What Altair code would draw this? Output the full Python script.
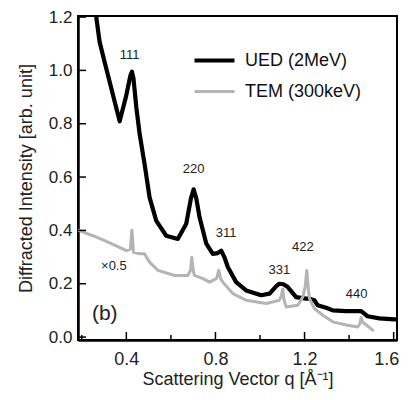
import altair as alt
import pandas as pd

# UED (2MeV) curve
ued_q = [0.255, 0.265, 0.28, 0.303, 0.3475, 0.37, 0.398, 0.418, 0.425, 0.432, 0.445, 0.46, 0.482,
         0.5045, 0.5345, 0.579, 0.631, 0.669, 0.69, 0.702, 0.714, 0.729, 0.759, 0.788, 0.81, 0.826,
         0.84, 0.856, 0.893, 0.938, 1.005, 1.043, 1.072, 1.087, 1.105, 1.125, 1.162, 1.207, 1.222,
         1.244, 1.259, 1.297, 1.327, 1.387, 1.454, 1.483, 1.536, 1.603, 1.615]
ued_y = [1.25, 1.2, 1.107, 1.03, 0.883, 0.809, 0.90, 0.98, 0.995, 0.97, 0.86, 0.76, 0.648,
         0.523, 0.436, 0.38, 0.368, 0.425, 0.52, 0.554, 0.52, 0.448, 0.35, 0.312, 0.315, 0.324,
         0.30, 0.262, 0.206, 0.175, 0.157, 0.163, 0.19, 0.2, 0.198, 0.1875, 0.15, 0.144, 0.144,
         0.138, 0.119, 0.11, 0.10, 0.097, 0.097, 0.078, 0.07, 0.066, 0.066]

# TEM (300keV) curve (x0.5)
tem_q = [0.185, 0.25, 0.303, 0.36, 0.40, 0.418, 0.425, 0.432, 0.46, 0.482, 0.49, 0.505, 0.542,
         0.617, 0.676, 0.688, 0.694, 0.70, 0.706, 0.744, 0.774, 0.805, 0.815, 0.823, 0.833, 0.878,
         0.938, 1.028, 1.087, 1.096, 1.102, 1.108, 1.117, 1.17, 1.192, 1.203, 1.21, 1.217, 1.222,
         1.244, 1.282, 1.327, 1.387, 1.439, 1.448, 1.454, 1.462, 1.469, 1.506]
tem_y = [0.40, 0.38, 0.362, 0.34, 0.324, 0.33, 0.401, 0.318, 0.312, 0.312, 0.30, 0.28, 0.25,
         0.231, 0.231, 0.25, 0.299, 0.25, 0.231, 0.219, 0.206, 0.22, 0.25, 0.22, 0.206, 0.163,
         0.138, 0.126, 0.138, 0.155, 0.18, 0.14, 0.113, 0.119, 0.15, 0.19, 0.25, 0.18, 0.145,
         0.107, 0.082, 0.057, 0.045, 0.038, 0.05, 0.073, 0.055, 0.051, 0.026]

series_names = ["UED (2MeV)", "TEM (300keV)"]

peak_labels = ["111", "220", "311", "331", "422", "440", "\u00d70.5"]
peak_q = [0.415, 0.702, 0.848, 1.087, 1.192, 1.434, 0.344]
peak_y = [1.058, 0.63, 0.392, 0.25, 0.337, 0.163, 0.268]

panel_label = ["(b)"]
panel_q = [0.303]
panel_y = [0.088]

x_major = [0.4, 0.8, 1.2, 1.6]
x_minor = [0.2, 0.6, 1.0, 1.4]
y_major = [0.0, 0.2, 0.4, 0.6, 0.8, 1.0, 1.2]

W, H = 319, 324
FONT = "Liberation Sans"

df = pd.concat([
    pd.DataFrame({"q": ued_q, "I": ued_y, "series": series_names[0]}),
    pd.DataFrame({"q": tem_q, "I": tem_y, "series": series_names[1]}),
])
labels_df = pd.DataFrame({"q": peak_q, "I": peak_y, "t": peak_labels})
panel_df = pd.DataFrame({"q": panel_q, "I": panel_y, "t": panel_label})
xmaj_df = pd.DataFrame({"q": x_major})
xmin_df = pd.DataFrame({"q": x_minor})
ymaj_df = pd.DataFrame({"I": y_major})

xs = alt.Scale(domain=[0.183, 1.615], nice=False, zero=False)
ys = alt.Scale(domain=[-0.011, 1.204], nice=False, zero=False)

x_axis = alt.Axis(values=x_major, format=".1f", ticks=False, grid=False,
                  title="Scattering Vector q  [\u00c5\u207b\u00b9]", labelPadding=10,
                  titlePadding=2, titleFontSize=18, labelFlush=6, labelFlushOffset=5)
y_axis = alt.Axis(values=y_major, format=".1f", ticks=False, grid=False,
                  title="Diffracted Intensity [arb. unit]", labelPadding=6,
                  titlePadding=13, labelFlush=False, labelFontSize=17)

lines = alt.Chart(df).mark_line(clip=True, strokeJoin="round", strokeCap="round").encode(
    x=alt.X("q:Q", scale=xs, axis=x_axis),
    y=alt.Y("I:Q", scale=ys, axis=y_axis),
    color=alt.Color("series:N", scale=alt.Scale(domain=series_names, range=["#000000", "#b4b4b4"]),
                    legend=alt.Legend(orient="none", legendX=114, legendY=22, title=None,
                                      symbolType="stroke", symbolSize=1600, symbolStrokeWidth=2,
                                      labelFont=FONT, labelFontSize=18, labelColor="#111",
                                      labelOffset=8, rowPadding=-11)),
    strokeWidth=alt.StrokeWidth("series:N", scale=alt.Scale(domain=series_names, range=[4.2, 3]),
                                legend=None),
)

xmaj = alt.Chart(xmaj_df).mark_rule(color="black", strokeWidth=1.5).encode(
    x=alt.X("q:Q", scale=xs), y=alt.value(H), y2=alt.value(H - 8))
xmin = alt.Chart(xmin_df).mark_rule(color="black", strokeWidth=1.5).encode(
    x=alt.X("q:Q", scale=xs), y=alt.value(H), y2=alt.value(H - 5))
ymaj = alt.Chart(ymaj_df).mark_rule(color="black", strokeWidth=1.5).encode(
    y=alt.Y("I:Q", scale=ys), x=alt.value(0), x2=alt.value(8))

texts = alt.Chart(labels_df).mark_text(font=FONT, fontSize=13, color="#222").encode(
    x=alt.X("q:Q", scale=xs), y=alt.Y("I:Q", scale=ys), text="t:N")
panel = alt.Chart(panel_df).mark_text(font=FONT, fontSize=21, color="#222").encode(
    x=alt.X("q:Q", scale=xs), y=alt.Y("I:Q", scale=ys), text="t:N")

chart = alt.layer(lines, xmaj, xmin, ymaj, texts, panel).properties(
    width=W, height=H,
    autosize=alt.AutoSizeParams(type="none"),
    padding={"left": 70, "top": 8, "right": 3, "bottom": 52},
).configure_view(stroke="black", strokeWidth=2).configure_axis(
    labelFont=FONT, labelFontSize=18, labelColor="#222",
    titleFont=FONT, titleFontSize=18, titleFontWeight="normal", titleColor="#222",
    domainColor="black", domainWidth=2.5,
)

chart.save("out.html", embed_options={"renderer": "svg", "actions": False})
